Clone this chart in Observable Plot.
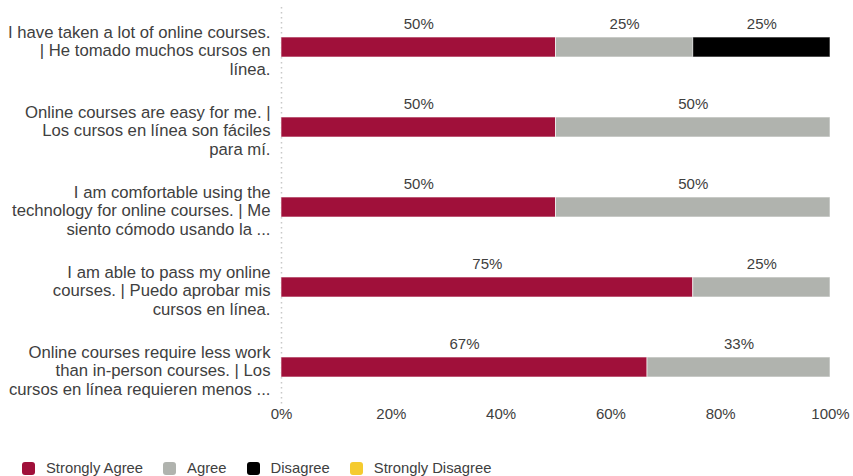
<!DOCTYPE html>
<html>
<head>
<meta charset="utf-8">
<script src="https://cdn.jsdelivr.net/npm/d3@7"></script>
<script src="https://cdn.jsdelivr.net/npm/@observablehq/plot@0.6"></script>
<style>
  html, body { margin: 0; padding: 0; background: #fff; }
  body { font-family: "Liberation Sans", Arial, sans-serif; width: 853px; height: 476px; overflow: hidden; }
  #legend { display: flex; align-items: center; margin-left: 22px; margin-top: 28px; font-size: 14.8px; color: #404040; }
  .item { display: flex; align-items: center; margin-right: 20px; }
  .sw { width: 13px; height: 13px; border-radius: 3px; margin-right: 11px; }
</style>
</head>
<body>
<div id="chart"></div>
<div id="legend"></div>
<script>
const categories = [
  "I have taken a lot of online courses.\n| He tomado muchos cursos en\nlínea.",
  "Online courses are easy for me. |\nLos cursos en línea son fáciles\npara mí.",
  "I am comfortable using the\ntechnology for online courses. | Me\nsiento cómodo usando la ...",
  "I am able to pass my online\ncourses. | Puedo aprobar mis\ncursos en línea.",
  "Online courses require less work\nthan in-person courses. | Los\ncursos en línea requieren menos ..."
];
const responses = ["Strongly Agree", "Agree", "Disagree", "Strongly Disagree"];
const colors = ["#a0103a", "#b0b3ae", "#000000", "#f5cb2f"];
const stronglyAgree = [50, 50, 50, 75, 66.67];
const agree = [25, 50, 50, 25, 33.33];
const disagree = [25, 0, 0, 0, 0];
const stronglyDisagree = [0, 0, 0, 0, 0];
const xTicks = [0, 20, 40, 60, 80, 100];

const series = [stronglyAgree, agree, disagree, stronglyDisagree];
const rows = [];
categories.forEach((c, i) => {
  let x1 = 0;
  series.forEach((s, k) => {
    const v = s[i];
    if (v > 0) rows.push({category: c, response: responses[k], x1, x2: x1 + v, value: v});
    x1 += v;
  });
});

const chart = Plot.plot({
  width: 853,
  height: 432,
  marginLeft: 281,
  marginRight: 23,
  marginTop: 7,
  marginBottom: 25,
  style: {fontFamily: "Liberation Sans, Arial, sans-serif", fontSize: "15px", color: "#404040"},
  x: {domain: [0, 100], ticks: xTicks, tickFormat: d => d + "%", tickSize: 0, tickPadding: 1, label: null},
  y: {domain: categories, paddingInner: 0.75, paddingOuter: 0.375, axis: null, label: null},
  color: {domain: responses, range: colors},
  marks: [
    Plot.ruleX([0], {stroke: "#c8c8c8", strokeDasharray: "1.5,3.5", strokeWidth: 1.5}),
    Plot.barX(rows, {y: "category", x1: "x1", x2: "x2", fill: "response", stroke: "#ffffff", strokeOpacity: 0.6, strokeWidth: 1, inset: 0}),
    Plot.text(rows, {y: "category", x: d => (d.x1 + d.x2) / 2, text: d => Math.round(d.value) + "%", dy: -23, fill: "#404040", fontSize: 15}),
    Plot.text(categories, {y: d => d, x: 0, text: d => d, textAnchor: "end", dx: -11, dy: 3, lineHeight: 1.1, fill: "#404040", fontSize: 16.7})
  ]
});
document.getElementById("chart").appendChild(chart);

const legend = document.getElementById("legend");
responses.forEach((r, i) => {
  const it = document.createElement("div");
  it.className = "item";
  const sw = document.createElement("div");
  sw.className = "sw";
  sw.style.background = colors[i];
  const t = document.createElement("span");
  t.textContent = r;
  it.appendChild(sw);
  it.appendChild(t);
  legend.appendChild(it);
});
</script>
</body>
</html>
